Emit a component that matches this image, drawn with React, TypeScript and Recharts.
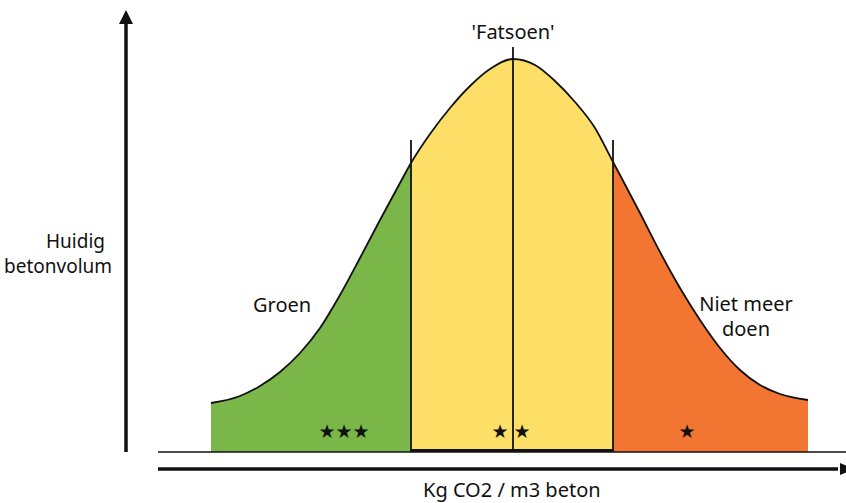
import { ComposedChart, Area, XAxis, YAxis, ReferenceLine, ReferenceDot } from "recharts";

// bell curve (x: kg CO2 position, y: volume)
const curveX = [211, 240, 260, 280, 300, 320, 340, 360, 380, 400, 411, 430, 450, 470, 490, 513, 535, 555, 575, 595, 613, 620, 640, 660, 680, 700, 720, 740, 760, 780, 808];
const curveY = [49, 56, 66, 80, 99, 124, 157, 194, 232, 269, 289, 318, 344, 366, 383, 393, 387, 371, 350, 324, 290, 277, 239, 200, 164, 132, 104, 82, 67, 58, 52];

// band borders: groen | fatsoen | niet meer doen
const greenEnd = 411;
const orangeStart = 613;
const peakX = 513;
const borderTop = 312;
const peakLineTop = 405;

const bandColors = ["#7ab648", "#fddf68", "#f27532"];

const stars = [
  { x: 344, y: 21, text: "★★★" },
  { x: 500, y: 21, text: "★" },
  { x: 522, y: 21, text: "★" },
  { x: 687, y: 21, text: "★" },
];

const labels = [
  { x: 513, y: 413, text: "'Fatsoen'", anchor: "middle", size: 20 },
  { x: 253, y: 140, text: "Groen", anchor: "start", size: 20 },
  { x: 746, y: 141, text: "Niet meer", anchor: "middle", size: 20 },
  { x: 746, y: 116, text: "doen", anchor: "middle", size: 20 },
  { x: 46, y: 204, text: "Huidig", anchor: "start", size: 19 },
  { x: 4, y: 179, text: "betonvolum", anchor: "start", size: 19 },
  { x: 423, y: -45, text: "Kg CO2 / m3 beton", anchor: "start", size: 20 },
];

const data = curveX.map((x, i) => ({ x, volume: curveY[i] }));

const xMin = curveX[0];
const xMax = curveX[curveX.length - 1];
const stop1 = (greenEnd - xMin) / (xMax - xMin);
const stop2 = (orangeStart - xMin) / (xMax - xMin);

const FONT = "'Noto Sans', sans-serif";

const arrowUp = (p: any) => (
  <g>
    <line x1={p.x1} y1={p.y1} x2={p.x2} y2={p.y2 + 10} stroke="#111" strokeWidth={3.5} />
    <polygon points={`${p.x2 - 7},${p.y2 + 14} ${p.x2 + 7},${p.y2 + 14} ${p.x2},${p.y2}`} fill="#111" />
  </g>
);

const arrowRight = (p: any) => (
  <g>
    <line x1={p.x1} y1={p.y1} x2={p.x2 - 8} y2={p.y2} stroke="#111" strokeWidth={3.5} />
    <polygon points={`${p.x2 - 6},${p.y2 - 6} ${p.x2 - 6},${p.y2 + 6} ${p.x2 + 8},${p.y2}`} fill="#111" />
  </g>
);

export default function App() {
  return (
    <div style={{ position: "absolute", left: 0, top: 0, width: 846, height: 503, background: "#fff" }}>
      <ComposedChart width={846} height={503} data={data} margin={{ top: 0, right: 0, bottom: 0, left: 0 }}>
        <defs>
          <linearGradient id="bands" x1="0" y1="0" x2="1" y2="0">
            <stop offset={0} stopColor={bandColors[0]} />
            <stop offset={stop1} stopColor={bandColors[0]} />
            <stop offset={stop1} stopColor={bandColors[1]} />
            <stop offset={stop2} stopColor={bandColors[1]} />
            <stop offset={stop2} stopColor={bandColors[2]} />
            <stop offset={1} stopColor={bandColors[2]} />
          </linearGradient>
        </defs>
        <XAxis type="number" dataKey="x" domain={[0, 846]} hide />
        <YAxis type="number" domain={[-51, 452]} hide />

        <Area
          dataKey="volume"
          type="monotone"
          baseValue={0}
          fill="url(#bands)"
          fillOpacity={1}
          stroke="#111"
          strokeWidth={1.8}
          dot={false}
          activeDot={false}
          isAnimationActive={false}
        />

        <ReferenceLine segment={[{ x: greenEnd, y: 0 }, { x: greenEnd, y: borderTop }]} stroke="#111" strokeWidth={1.8} />
        <ReferenceLine segment={[{ x: orangeStart, y: 0 }, { x: orangeStart, y: borderTop }]} stroke="#111" strokeWidth={1.8} />
        <ReferenceLine segment={[{ x: peakX, y: 0 }, { x: peakX, y: peakLineTop }]} stroke="#111" strokeWidth={1.8} />

        <ReferenceLine segment={[{ x: 158, y: 0 }, { x: 846, y: 0 }]} stroke="#111" strokeWidth={1.6} />
        <ReferenceLine segment={[{ x: greenEnd, y: 1.5 }, { x: orangeStart, y: 1.5 }]} stroke="#111" strokeWidth={3} />

        <ReferenceLine segment={[{ x: 126, y: 0 }, { x: 126, y: 442 }]} shape={arrowUp} ifOverflow="visible" />
        <ReferenceLine segment={[{ x: 158, y: -17 }, { x: 846, y: -17 }]} shape={arrowRight} ifOverflow="visible" />

        {stars.map((s, i) => (
          <ReferenceDot
            key={"s" + i}
            x={s.x}
            y={s.y}
            ifOverflow="visible"
            shape={(p: any) => (
              <text x={p.cx} y={p.cy} textAnchor="middle" dominantBaseline="central" fontFamily="'DejaVu Sans', sans-serif" fontSize={19} fill="#111">
                {s.text}
              </text>
            )}
          />
        ))}

        {labels.map((l, i) => (
          <ReferenceDot
            key={"l" + i}
            x={l.x}
            y={l.y}
            ifOverflow="visible"
            shape={(p: any) => (
              <text x={p.cx} y={p.cy} textAnchor={l.anchor} fontFamily={FONT} fontSize={l.size} fill="#111">
                {l.text}
              </text>
            )}
          />
        ))}
      </ComposedChart>
    </div>
  );
}
